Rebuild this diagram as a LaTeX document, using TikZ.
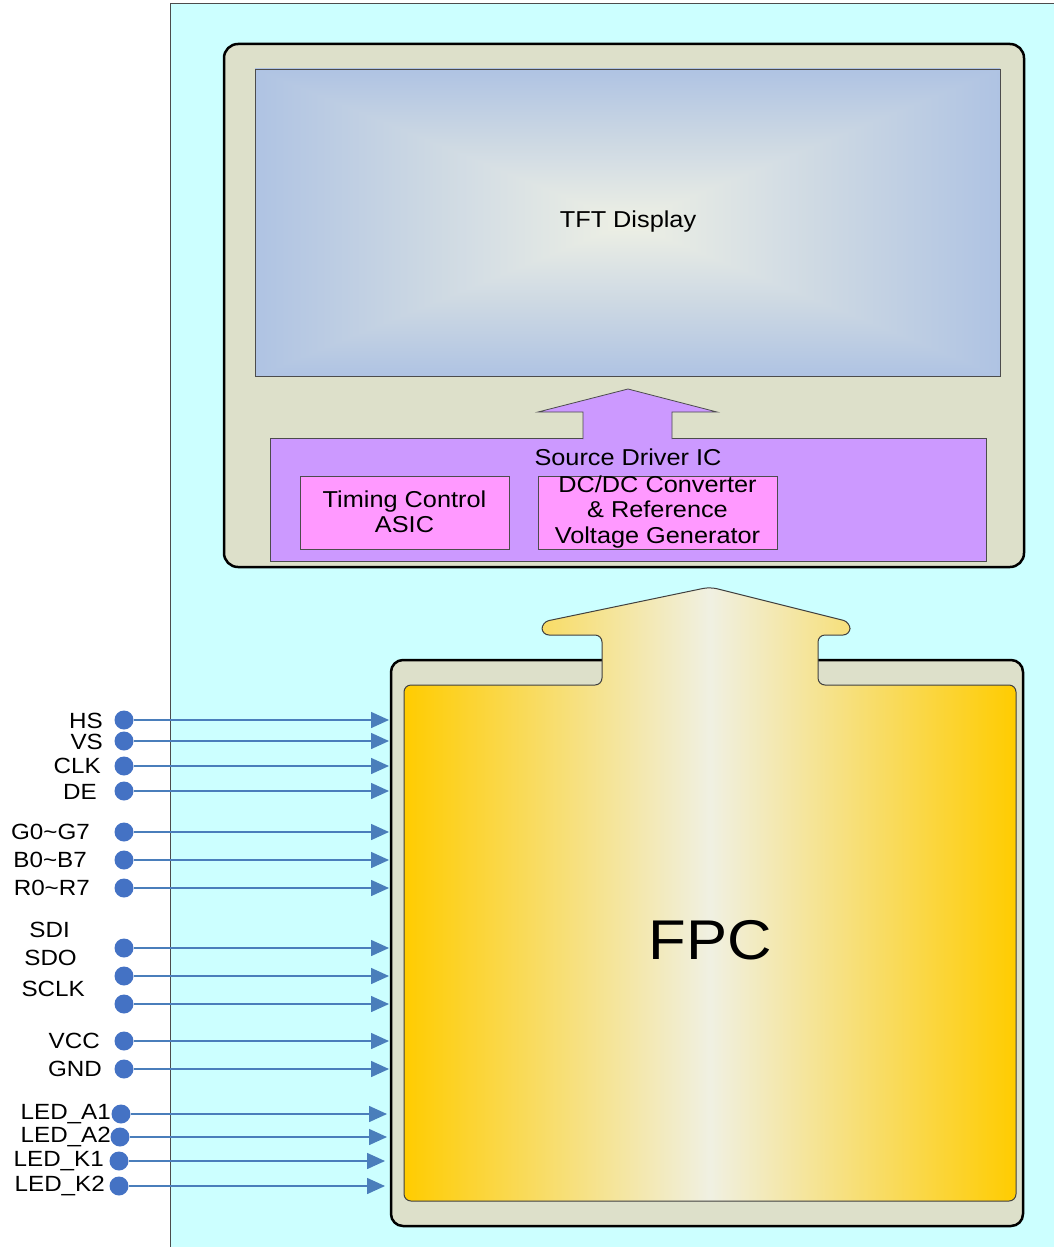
\documentclass[tikz,border=0pt]{standalone}
\usepackage{fontspec}
\setmainfont{Liberation Sans}[FakeStretch=1.1]
\usetikzlibrary{arrows.meta}

\definecolor{panelcyan}{HTML}{CCFFFF}
\definecolor{framegray}{HTML}{DDE0CA}
\definecolor{drvpurple}{HTML}{CC99FF}
\definecolor{blkpink}{HTML}{FF99FF}
\definecolor{fpcgold}{HTML}{FFCC00}
\definecolor{fpcpale}{HTML}{F0F0E2}
\definecolor{sigblue}{HTML}{4472C4}
\definecolor{sigline}{HTML}{4A7EBB}

% rectangular glow: pale centre, blue rim
\pgfdeclarefunctionalshading{tftshade}{\pgfpoint{-50bp}{-50bp}}{\pgfpoint{50bp}{50bp}}{}{
  abs exch abs 2 copy lt {exch} if pop 25 div
  dup 1 gt {pop 1} if
  dup -0.247 mul 0.933 add exch
  dup -0.176 mul 0.941 add exch
  -0.004 mul 0.894 add
}

\tikzset{
  frameline/.style={draw=black, line width=2.5pt, fill=framegray, rounded corners=14pt},
  thinbox/.style={draw=black!70, line width=0.8pt},
  boxtext/.style={font=\fontsize{23}{25.5}\selectfont, align=center, inner sep=0pt},
  sigdot/.style={circle, fill=sigblue, minimum size=19pt, inner sep=0pt},
  siglabel/.style={font=\fontsize{22}{24}\selectfont, inner sep=0pt, anchor=east},
  sigarrow/.style={draw=sigline, line width=1.5pt, -{Triangle[length=18pt,width=16pt]}},
}

\begin{document}
\begin{tikzpicture}[x=1pt, y=-1pt]
\useasboundingbox (0,0) rectangle (1054,1247);

% module panel
\draw[draw=black!70, fill=panelcyan, line width=1pt] (170,4) rectangle (1070,1260);

% display glass and source driver
\draw[frameline] (224,44) rectangle (1024,567);
\draw[thinbox, shading=tftshade] (255,69) rectangle (1000,376);
\node[boxtext] (tft) at (628,222) {TFT Display};
\draw[thinbox, fill=drvpurple] (270,438) rectangle (986,561);
\filldraw[thinbox, fill=drvpurple] (583,439) -- (583,412) -- (538,412) -- (628,389)
  -- (717,412) -- (672,412) -- (672,439);
\node[boxtext] (srcdrv) at (628,457) {Source Driver IC};
\draw[thinbox, fill=blkpink] (300,476) rectangle (509,549);
\node[boxtext] (tcon) at (404.5,512) {Timing Control\\ASIC};
\draw[thinbox, fill=blkpink] (538,476) rectangle (777,549);
\node[boxtext] (dcdc) at (657.5,512) {DC/DC Converter\\\& Reference\\Voltage Generator};

% flex circuit
\draw[frameline, rounded corners=12pt] (391,660) rectangle (1023,1226);
\draw[draw=black!75, line width=1pt, rounded corners=7pt,
  left color=fpcgold, right color=fpcgold, middle color=fpcpale]
  (404,685) -- (602,685) -- (602,635) -- (542,635) -- (542,622) -- (710,587)
  -- (850,622) -- (850,635) -- (818,635) -- (818,685) -- (1016,685)
  -- (1016,1201) -- (404,1201) -- cycle;
\node[font=\fontsize{56}{60}\selectfont, inner sep=0pt] (fpc) at (710,940) {FPC};

% interface pins
\foreach \nm/\y/\dx/\ax in {hs/720/124/389, vs/741/124/389, clk/766/124/389,
  de/791/124/389, g/832/124/389, b/860/124/389, r/888/124/389,
  sdi/948/124/389, sdo/976/124/389, sclk/1004/124/389, vcc/1041/124/389,
  gnd/1069/124/389, leda1/1114/121/387, leda2/1137/120/387,
  ledk1/1161/119/385, ledk2/1186/119/385}
{
  \node[sigdot] (dot-\nm) at (\dx,\y) {};
  \coordinate (pin-\nm) at (\ax,\y);
  \draw[sigarrow] (dot-\nm) -- (pin-\nm);
}
\foreach \x/\y/\txt [count=\i] in {103/721/HS, 103/742/VS, 101/766/CLK, 97/792/DE,
  90/832/G0\textasciitilde G7, 87/860/B0\textasciitilde B7, 90/888/R0\textasciitilde R7,
  70/930/SDI, 77/958/SDO, 85/989/SCLK, 100/1041/VCC, 102/1069/GND,
  111/1114/LED\_A1, 111/1137/LED\_A2, 104/1161/LED\_K1, 105/1186/LED\_K2}
  \node[siglabel] (lbl-\i) at (\x,\y) {\txt};
\end{tikzpicture}
\end{document}
